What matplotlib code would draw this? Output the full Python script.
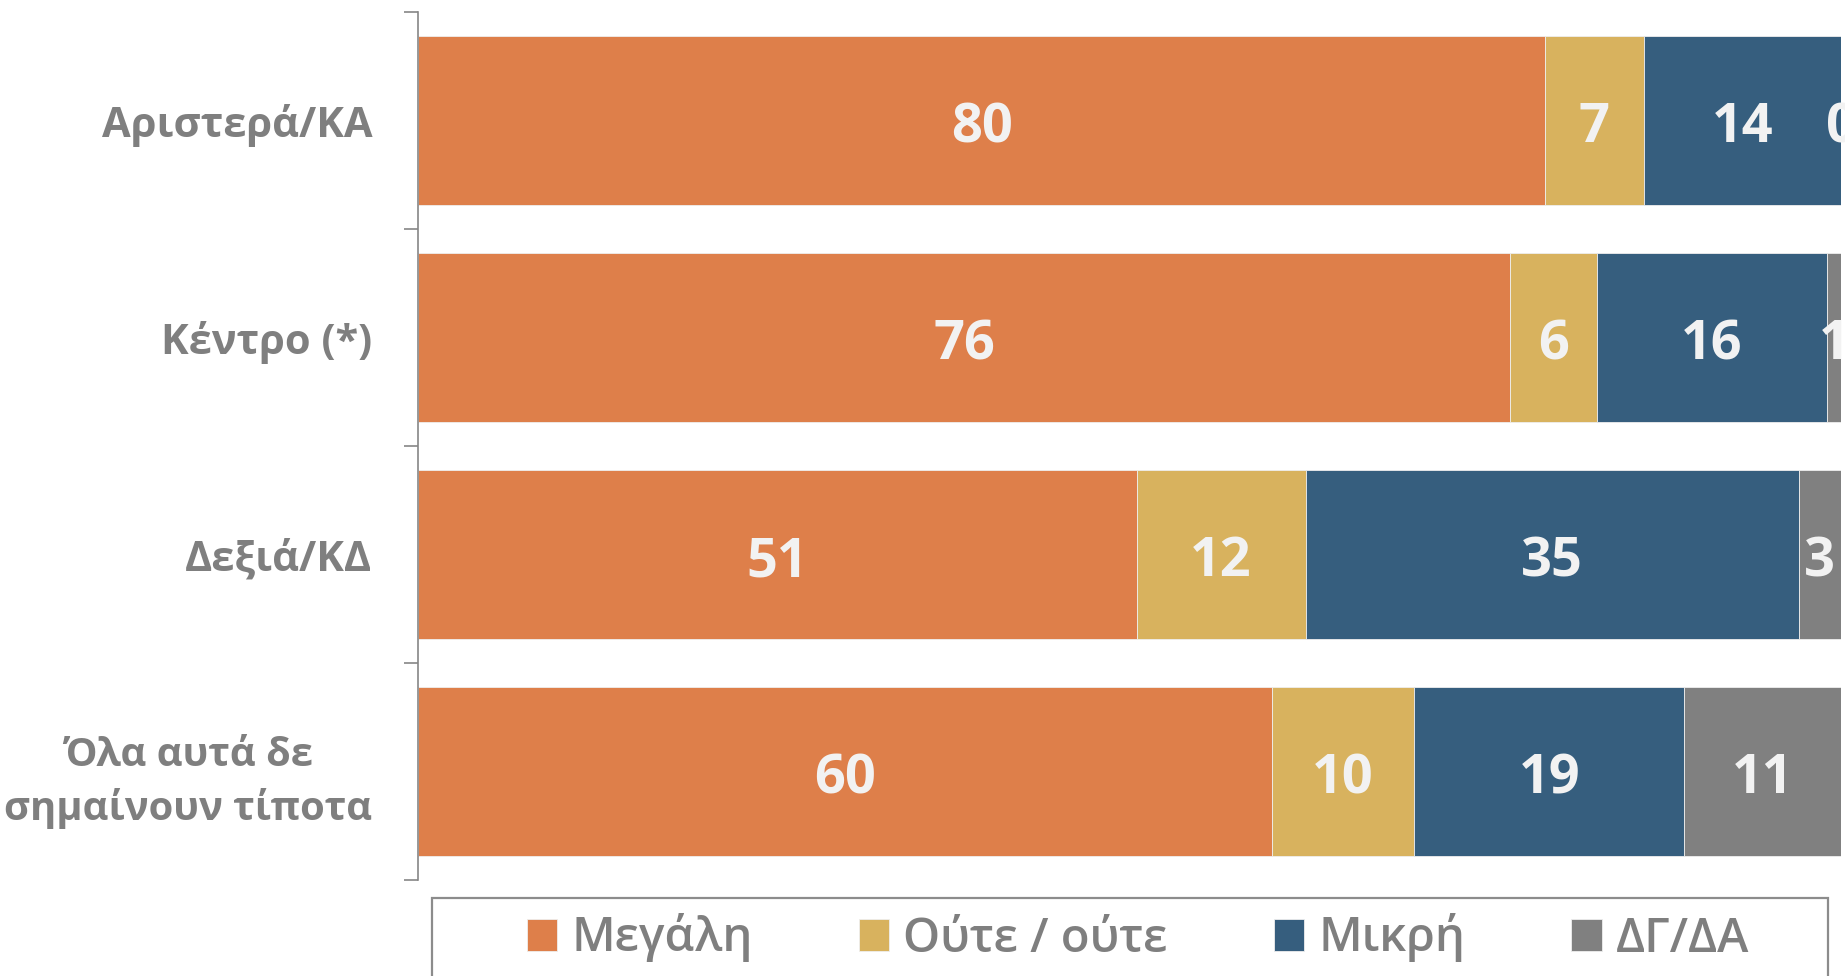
import matplotlib
matplotlib.use("Agg")
import matplotlib.pyplot as plt
import matplotlib.patches as patches
import numpy as np

# data
categories = ["Αριστερά/ΚΑ", "Κέντρο (*)", "Δεξιά/ΚΔ", "Όλα αυτά δε\nσημαίνουν τίποτα"]
series = ["Μεγάλη", "Ούτε / ούτε", "Μικρή", "ΔΓ/ΔΑ"]
megali = [80, 76, 51, 60]
oute = [7, 6, 12, 10]
mikri = [14, 16, 35, 19]
dg_da = [0, 1, 3, 11]

colors = ["#DE7F4A", "#D8B25E", "#365E7E", "#808080"]
label_gray = "#7F7F7F"
value_white = "#F2F2F2"
font = ["Open Sans", "DejaVu Sans"]

W, H, DPI = 1845, 976, 100
fig = plt.figure(figsize=(W / DPI, H / DPI), dpi=DPI, facecolor="white")
ax = fig.add_axes([418 / W, 1 - 880 / H, (1841 - 418) / W, (880 - 12) / H])

vals = np.array([megali, oute, mikri, dg_da], dtype=float)
totals = vals.sum(axis=0)
pct = vals / totals * 100  # 100% stacked, like the original
y = np.arange(len(categories))

left = np.zeros(len(categories))
handles = []
for i, name in enumerate(series):
    bars = ax.barh(y, pct[i], left=left, height=0.775, color=colors[i],
                   edgecolor="#eeeeee", linewidth=0.6, label=name)
    handles.append(bars)
    for j in range(len(categories)):
        ax.text(left[j] + pct[i][j] / 2, y[j] + 0.035, f"{int(vals[i][j])}",
                ha="center", va="center", color=value_white,
                fontsize=39, fontweight="bold", family=font)
    left += pct[i]

ax.set_xlim(0, 100)
ax.set_ylim(3.5, -0.5)
ax.set_xticks([])
ax.set_yticks(y)
ax.set_yticklabels(categories, fontsize=30, fontweight="bold", color=label_gray,
                   family=font, linespacing=1.4, multialignment="center")
ax.get_yticklabels()[3].set_fontsize(28.8)
ax.set_yticks(np.arange(-0.5, 4.0, 1.0), minor=True)
ax.tick_params(axis="y", which="major", length=0, pad=33)
ax.tick_params(axis="y", which="minor", length=10, width=1.2, color="#868686")
for s in ["top", "right", "bottom"]:
    ax.spines[s].set_visible(False)
ax.spines["left"].set_color("#868686")
ax.spines["left"].set_linewidth(1.2)

# legend frame (runs off the bottom edge)
fig.patches.append(patches.Rectangle((432 / W, -0.05), (1828 - 432) / W, 0.05 + 1 - 898 / H,
                                     transform=fig.transFigure, facecolor="none",
                                     edgecolor="#8C8C8C", linewidth=1.6))
leg = fig.legend(handles, series, loc="center", ncol=4,
                 bbox_to_anchor=(1138 / W, 1 - 938 / H),
                 frameon=False, handlelength=0.64, handleheight=0.64,
                 handletextpad=0.3, columnspacing=2.25,
                 prop={"family": font, "size": 34, "weight": "semibold"})
for t in leg.get_texts():
    t.set_color(label_gray)

fig.savefig("out.png", dpi=DPI, facecolor="white")
